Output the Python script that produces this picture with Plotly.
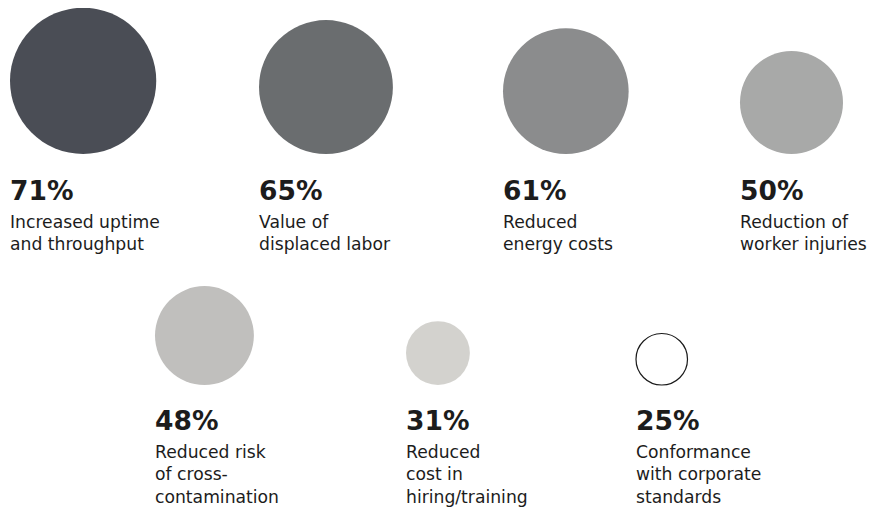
import plotly.graph_objects as go

# ---- data ----
values = [71, 65, 61, 50, 48, 31, 25]
pct_labels = ["71%", "65%", "61%", "50%", "48%", "31%", "25%"]
descriptions = [
    "Increased uptime<br>and throughput",
    "Value of<br>displaced labor",
    "Reduced<br>energy costs",
    "Reduction of<br>worker injuries",
    "Reduced risk<br>of cross-<br>contamination",
    "Reduced<br>cost in<br>hiring/training",
    "Conformance<br>with corporate<br>standards",
]

# ---- layout / styling ----
W, H = 875, 508
OFF = 8  # browser body margin
PX_PER_UNIT = 2.06  # circle diameter in px per percentage point
slot_left = [10, 259, 503, 740, 155, 406, 636]
slot_row = [0, 0, 0, 0, 1, 1, 1]
row_bottom = [154, 385]
row_pct_top = [173, 403]
fills = ["#4a4d55", "#6a6d6f", "#8b8c8d", "#a8a9a8", "#c0bfbd", "#d3d2ce", "#ffffff"]
lines_w = [0, 0, 0, 0, 0, 0, 1.2]
text_color = "#1c1c1c"
font_family = "DejaVu Sans, sans-serif"

diam = [v * PX_PER_UNIT for v in values]
cx = [l + d / 2 for l, d in zip(slot_left, diam)]
cy = [row_bottom[r] - d / 2 for r, d in zip(slot_row, diam)]

fig = go.Figure()
fig.add_trace(go.Scatter(
    x=cx, y=cy, mode="markers",
    marker=dict(size=diam, sizemode="diameter", color=fills,
                line=dict(width=lines_w, color="#1a1a1a"), opacity=1),
    hoverinfo="skip", showlegend=False,
))

annotations = []
for i in range(len(values)):
    r = slot_row[i]
    annotations.append(dict(
        x=slot_left[i] - 2, y=row_pct_top[r], xref="x", yref="y",
        text="<b>" + pct_labels[i] + "</b>", showarrow=False,
        xanchor="left", yanchor="top", align="left",
        font=dict(family=font_family, size=26.5, color=text_color),
    ))
    annotations.append(dict(
        x=slot_left[i] - 2, y=row_pct_top[r] + 37, xref="x", yref="y",
        text=descriptions[i], showarrow=False,
        xanchor="left", yanchor="top", align="left",
        font=dict(family=font_family, size=17.2, color=text_color),
    ))

fig.update_layout(
    width=W, height=H,
    margin=dict(l=0, r=0, t=0, b=0),
    paper_bgcolor="white", plot_bgcolor="white",
    xaxis=dict(range=[OFF, W + OFF], visible=False, fixedrange=True),
    yaxis=dict(range=[H + OFF, OFF], visible=False, fixedrange=True),
    annotations=annotations,
)

fig.write_html("out.html")
